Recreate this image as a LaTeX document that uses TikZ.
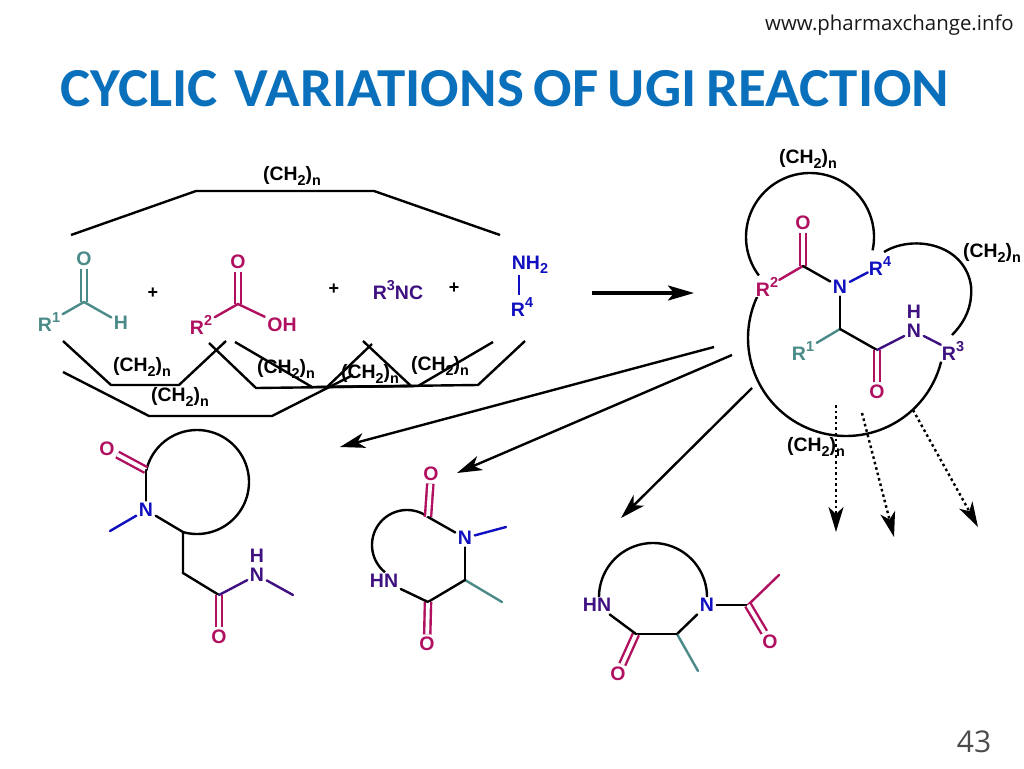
\documentclass[tikz,border=0pt]{standalone}
\usepackage{fontspec}
\setmainfont{Liberation Sans}
\newfontfamily\titlefont{Carlito}
\newfontfamily\webfont{Open Sans}
\usetikzlibrary{arrows.meta}
\definecolor{teal1}{HTML}{4A8A88}
\definecolor{mag}{HTML}{B0105F}
\definecolor{purp}{HTML}{3F1080}
\definecolor{blu}{HTML}{1010C0}
\definecolor{titleblue}{HTML}{0A70BC}
\newcommand{\sbs}[1]{\raisebox{-0.22em}{\scalebox{.74}{#1}}}
\newcommand{\sps}[1]{\raisebox{0.42em}{\scalebox{.74}{#1}}}
\newcommand{\chain}{(CH\sbs{2})\sbs{n}}
\newcommand{\tsp}{\hspace{.17em}}
\tikzset{
 x=1pt,y=-1pt,
 bond/.style={line width=2.4pt,line cap=round,black},
 dblbond/.style={line width=2.4pt,draw=#1,double=white,double distance=3.8pt,line cap=butt},
 ring/.style={line width=2.4pt,black},
 chainline/.style={line width=2.4pt,line cap=butt,black},
 lab/.style={font=\fontsize{19.4}{20}\selectfont\bfseries,inner sep=0pt,text=black},
 atom/.style={font=\fontsize{19.5}{20}\selectfont\bfseries,inner sep=2.5pt},
 aT/.style={atom,text=teal1}, aM/.style={atom,text=mag}, aP/.style={atom,text=purp}, aB/.style={atom,text=blu},
 plus/.style={font=\fontsize{18}{18}\selectfont\bfseries,inner sep=0pt},
 arr/.style={line width=2.4pt,-{Stealth[length=25pt,width=15pt,inset=7pt]}},
 dotarr/.style={line width=2.4pt,dash pattern=on 2.6pt off 3pt,-{Stealth[length=25pt,width=15pt,inset=7pt]}},
}
\begin{document}
\begin{tikzpicture}
\useasboundingbox (0,0) rectangle (1024,768);
\fill[white] (0,0) rectangle (1024,768);
% header
\node[font=\webfont\fontsize{20.4}{21}\selectfont,text=black!90,inner sep=0pt] (web) at (889.5,25) {www.pharmaxchange.info};
\node[font=\titlefont\bfseries\fontsize{55}{56}\selectfont,text=titleblue,inner sep=0pt] (title) at (505,88.5) {\scalebox{1.036}[1]{CYCLIC\hspace{.3em}VARIATIONS\tsp OF\tsp UGI\tsp REACTION}};
\node[font=\webfont\fontsize{30}{30}\selectfont,text=black!70,inner sep=0pt] (page) at (974,742) {43};

% chains above / below reagents
\coordinate (t1) at (71,235); \coordinate (t2) at (196,191); \coordinate (t3) at (374,191); \coordinate (t4) at (500,235);
\draw[chainline] (t1)--(t2)--(t3)--(t4);
\coordinate (a1) at (63,341); \coordinate (a2) at (111,385); \coordinate (a3) at (179,385); \coordinate (a4) at (226,341);
\draw[chainline] (a1)--(a2)--(a3)--(a4);
\coordinate (b1) at (63,372); \coordinate (b2) at (149,416); \coordinate (b3) at (272,416); \coordinate (b4) at (353,375);
\draw[chainline] (b1)--(b2)--(b3)--(b4);
\coordinate (c1) at (209,343); \coordinate (c2) at (256,388); \coordinate (c3) at (418,386); \coordinate (c4) at (493,342);
\draw[chainline] (c1)--(c2)--(c3)--(c4);
\coordinate (d1) at (235,342); \coordinate (d2) at (312,387); \coordinate (d3) at (478,385); \coordinate (d4) at (525,341);
\draw[chainline] (d1)--(d2)--(d3)--(d4);
\coordinate (e1) at (363,341); \coordinate (e2) at (411,386); \coordinate (e3) at (327,387); \coordinate (e4) at (372,344);
\draw[chainline] (e1)--(e2)--(e3)--(e4);
\node[lab] (l1) at (292,176) {\chain};
\node[lab] (l2) at (142,367) {\chain};
\node[lab] (l3) at (180,397) {\chain};
\node[lab] (l4) at (286,369) {\chain};
\node[lab] (l5) at (370,374) {\chain};
\node[lab] (l6) at (440,366) {\chain};

% aldehyde
\node[aT] (ao) at (84,259) {O};
\coordinate (ac) at (84,302);
\node[aT] (ar) at (49,322) {R\sps{1}};
\node[aT] (ah) at (121,323) {H};
\draw[dblbond=teal1] (ao)--(ac);
\draw[bond,teal1] (ar)--(ac)--(ah);
\node[plus] (p1) at (153,293) {+};
% acid
\node[aM] (co) at (238,262) {O};
\coordinate (cc) at (238,304);
\node[aM] (cr) at (201,325) {R\sps{2}};
\node[aM] (coh) at (282,325) {OH};
\draw[dblbond=mag] (co)--(cc);
\draw[bond,mag] (cr)--(cc)--(coh);
\node[plus] (p2) at (334,289) {+};
\node[atom,text=purp] (nc) at (398,290) {R\sps{3}NC};
\node[plus] (p3) at (454,288) {+};
\node[aB] (nh) at (530,265) {NH\sbs{2}};
\node[aB] (r4) at (522,307) {R\sps{4}};
\coordinate (nb) at (519,275); \coordinate (rb) at (519,295);
\draw[bond,blu,line cap=butt] (nb)--(rb);
% big arrow
\coordinate (ba) at (592,293); \coordinate (bb) at (694,293);
\draw[line width=3.6pt,-{Stealth[length=26pt,width=15pt,inset=6pt]}] (ba)--(bb);

% product
\node[lab] (m1) at (808,159) {\chain};
\node[lab] (m2) at (992,253) {\chain};
\draw[ring] plot[domain=143:372,samples=80] ({810+64*cos(\x)},{237+64*sin(\x)});
\coordinate (q0) at (884,252); \coordinate (q1) at (945,250); \coordinate (q2) at (971,296); \coordinate (q3) at (952,335);
\draw[ring] (q0) .. controls (900,242) and (925,240) .. (q1) .. controls (965,260) and (973,280) .. (q2) .. controls (970,312) and (962,325) .. (q3);
\draw[ring] plot[domain=205:14,samples=80] ({846+98*cos(\x)},{338+98*sin(\x)});
\node[lab] (m3) at (816,447) {\chain};
\node[aM] (po) at (803,223) {O};
\coordinate (pc) at (803,266);
\node[aM,fill=white,inner sep=1pt] (pr2) at (767,287) {R\sps{2}};
\node[aB] (pn) at (840,287) {N};
\node[aB,fill=white,inner sep=1pt] (pr4) at (880,266) {R\sps{4}};
\coordinate (pch) at (840,329);
\node[aT] (pr1) at (803,351) {R\sps{1}};
\coordinate (pc2) at (877,350);
\node[aM] (po2) at (877,392) {O};
\node[aP] (pnh) at (914,331) {N};
\node[aP,inner sep=0pt] (phh) at (914,312) {H};
\node[aP,fill=white,inner sep=1pt] (pr3) at (953,351) {R\sps{3}};
\draw[dblbond=mag] (po)--(pc);
\draw[bond,mag] (pr2)--(pc);
\draw[bond] (pc)--(pn);
\draw[bond,blu] (pn)--(pr4);
\draw[bond] (pn)--(pch);
\draw[bond,teal1] (pr1)--(pch);
\draw[bond] (pch)--(pc2);
\draw[dblbond=mag] (po2)--(pc2);
\draw[bond,purp] (pc2)--(pnh);
\draw[bond,purp] (pnh)--(pr3);

% arrows from product
\coordinate (x1) at (714,347); \coordinate (y1) at (340,447);
\coordinate (x2) at (732,355); \coordinate (y2) at (457,473);
\coordinate (x3) at (752,388); \coordinate (y3) at (621,518);
\draw[arr] (x1)--(y1);
\draw[arr] (x2)--(y2);
\draw[arr] (x3)--(y3);
\coordinate (u1) at (836,405); \coordinate (v1) at (836,532);
\coordinate (u2) at (862,413); \coordinate (v2) at (894,537);
\coordinate (u3) at (913,410); \coordinate (v3) at (978,527);
\draw[dotarr] (u1)--(v1);
\draw[dotarr] (u2)--(v2);
\draw[dotarr] (u3)--(v3);

% molecule 1
\draw[ring] plot[domain=193:465.6,samples=80] ({197+52*cos(\x)},{482+52*sin(\x)});
\node[aM] (ao1) at (107,449) {O};
\coordinate (ac1) at (146,470);
\node[aB] (an1) at (146,510) {N};
\coordinate (am1) at (110,531);
\coordinate (ach1) at (183,532);
\coordinate (ach2) at (183,573);
\coordinate (ac2) at (219,595);
\node[aM] (ao2) at (219,637) {O};
\node[aP] (an2) at (257,575) {N};
\node[aP,inner sep=0pt] (ah2) at (257,556) {H};
\coordinate (am2) at (293,595);
\draw[dblbond=mag] (ao1)--(ac1);
\draw[bond] (ac1)--(an1);
\draw[bond,blu] (an1)--(am1);
\draw[bond] (an1)--(ach1);
\draw[bond] (ach1)--(ach2)--(ac2);
\draw[dblbond=mag] (ao2)--(ac2);
\draw[bond,purp] (ac2)--(an2);
\draw[bond,purp] (an2)--(am2);

% molecule 2
\draw[ring] plot[domain=307:129,samples=60] ({407+35*cos(\x)},{545+35*sin(\x)});
\node[aM] (bo1) at (431,474) {O};
\coordinate (bc1) at (428,517);
\node[aB] (bn) at (465,538) {N};
\coordinate (bm) at (506,527);
\coordinate (bch) at (465,580);
\coordinate (bme) at (502,602);
\coordinate (bc2) at (428,602);
\node[aM] (bo2) at (427,644) {O};
\node[aP] (bhn) at (384,581) {HN};
\draw[dblbond=mag] (bo1)--(bc1);
\draw[bond] (bc1)--(bn);
\draw[bond,blu] (bn)--(bm);
\draw[bond] (bn)--(bch);
\draw[bond,teal1] (bch)--(bme);
\draw[bond] (bch)--(bc2);
\draw[dblbond=mag] (bo2)--(bc2);
\draw[bond] (bc2)--(bhn);

% molecule 3
\draw[ring] plot[domain=180:360,samples=60] ({653+54*cos(\x)},{597+54*sin(\x)});
\node[aB] (cn) at (707,605) {N};
\coordinate (cac) at (748,605);
\node[aM] (cao) at (770,642) {O};
\coordinate (cam) at (779,575);
\coordinate (cch) at (677,634);
\coordinate (cme) at (698,671);
\coordinate (cc2) at (636,634);
\node[aM] (co2) at (618,674) {O};
\node[aP] (chn) at (597,605) {HN};
\draw[bond] (cn)--(cac);
\draw[bond,mag] (cac)--(cam);
\draw[dblbond=mag] (cao)--(cac);
\draw[bond] (cn)--(cch);
\draw[bond,teal1] (cch)--(cme);
\draw[bond] (cch)--(cc2);
\draw[dblbond=mag] (co2)--(cc2);
\draw[bond] (cc2)--(chn);
\end{tikzpicture}
\end{document}
